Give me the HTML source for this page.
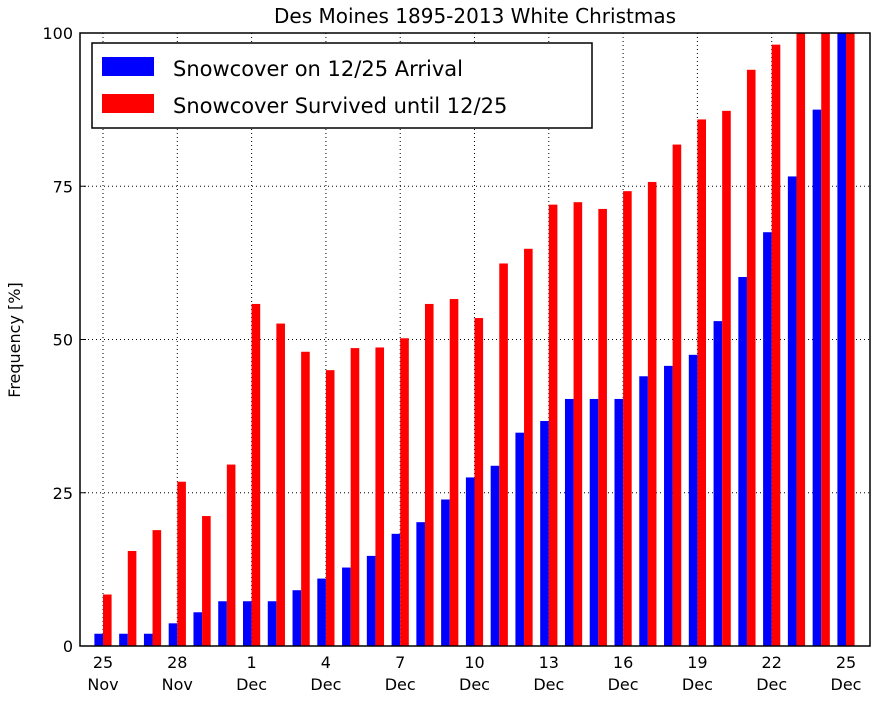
<!DOCTYPE html>
<html><head><meta charset="utf-8"><style>
body{margin:0;background:#fff;font-family:"DejaVu Sans","Liberation Sans",sans-serif}
</style></head><body>
<svg id="chart" width="877" height="700" xmlns="http://www.w3.org/2000/svg" font-family="DejaVu Sans, Liberation Sans, sans-serif">
<text x="475" y="23" text-anchor="middle" font-size="20">Des Moines 1895-2013 White Christmas</text>
<text transform="translate(20,340) rotate(-90)" text-anchor="middle" font-size="16">Frequency [%]</text>
<g id="grid"></g><g id="bars"></g><g id="axes"></g>
<rect x="80" y="33" width="790" height="613" fill="none" stroke="#000" stroke-width="1.5"/>
<g>
<rect x="92" y="43" width="500" height="85" fill="#fff" stroke="#000" stroke-width="1.5"/>
<rect x="102" y="57" width="52" height="19" fill="#0000ff"/>
<text x="173" y="76" font-size="21">Snowcover on 12/25 Arrival</text>
<rect x="102" y="94" width="52" height="19" fill="#ff0000"/>
<text x="173" y="113" font-size="21">Snowcover Survived until 12/25</text>
</g>
</svg>
<script>
const days=[25,26,27,28,29,30,1,2,3,4,5,6,7,8,9,10,11,12,13,14,15,16,17,18,19,20,21,22,23,24,25];
const arrival=[2,2,2,3.7,5.5,7.3,7.3,7.3,9.1,11,12.8,14.7,18.3,20.2,23.9,27.5,29.4,34.8,36.7,40.3,40.3,40.3,44,45.7,47.5,53,60.2,67.5,76.6,87.5,100];
const survived=[8.4,15.5,18.9,26.8,21.2,29.6,55.8,52.6,48,45,48.6,48.7,50.2,55.8,56.6,53.5,62.4,64.8,72,72.4,71.3,74.2,75.7,81.8,85.9,87.3,94,98.1,100,100,100];
const yTicks=[0,25,50,75,100];
const xTickIdx=[0,3,6,9,12,15,18,21,24,27,30];
const xTickLabels=[["25","Nov"],["28","Nov"],["1","Dec"],["4","Dec"],["7","Dec"],["10","Dec"],["13","Dec"],["16","Dec"],["19","Dec"],["22","Dec"],["25","Dec"]];
const NS="http://www.w3.org/2000/svg";
const x=i=>103+i*(846-103)/30;
const y=v=>646-v*(613/100);
const bw=8.6;
function mk(tag,attrs,parent){const e=document.createElementNS(NS,tag);for(const k in attrs)e.setAttribute(k,attrs[k]);document.getElementById(parent).appendChild(e);return e;}
yTicks.forEach(t=>{
 if(t>0&&t<100){const g=mk('line',{x1:80,x2:870,y1:y(t),y2:y(t),stroke:'#000','stroke-dasharray':'1,3','stroke-width':1},'grid');
 }
 const tk=mk('line',{x1:80,x2:86,y1:y(t),y2:y(t),stroke:'#000'},'axes');
 
 const l=mk('text',{x:73,y:y(t)+6,'text-anchor':'end','font-size':16},'axes');l.textContent=t;
 
});
xTickIdx.forEach((i,k)=>{
 const g=mk('line',{x1:x(i),x2:x(i),y1:33,y2:646,stroke:'#000','stroke-dasharray':'1,3','stroke-width':1},'grid');
 
 const l=mk('text',{x:x(i),y:668,'text-anchor':'middle','font-size':16},'axes');l.textContent=xTickLabels[k][0];
 
 const l2=mk('text',{x:x(i),y:690,'text-anchor':'middle','font-size':16},'axes');l2.textContent=xTickLabels[k][1];
 
});
days.forEach((d,i)=>{
 const b=mk('rect',{x:x(i)-bw,y:y(arrival[i]),width:bw,height:y(0)-y(arrival[i]),fill:'#0000ff'},'bars');
 
 const r=mk('rect',{x:x(i),y:y(survived[i]),width:bw,height:y(0)-y(survived[i]),fill:'#ff0000'},'bars');
 
});
</script>
</body></html>
